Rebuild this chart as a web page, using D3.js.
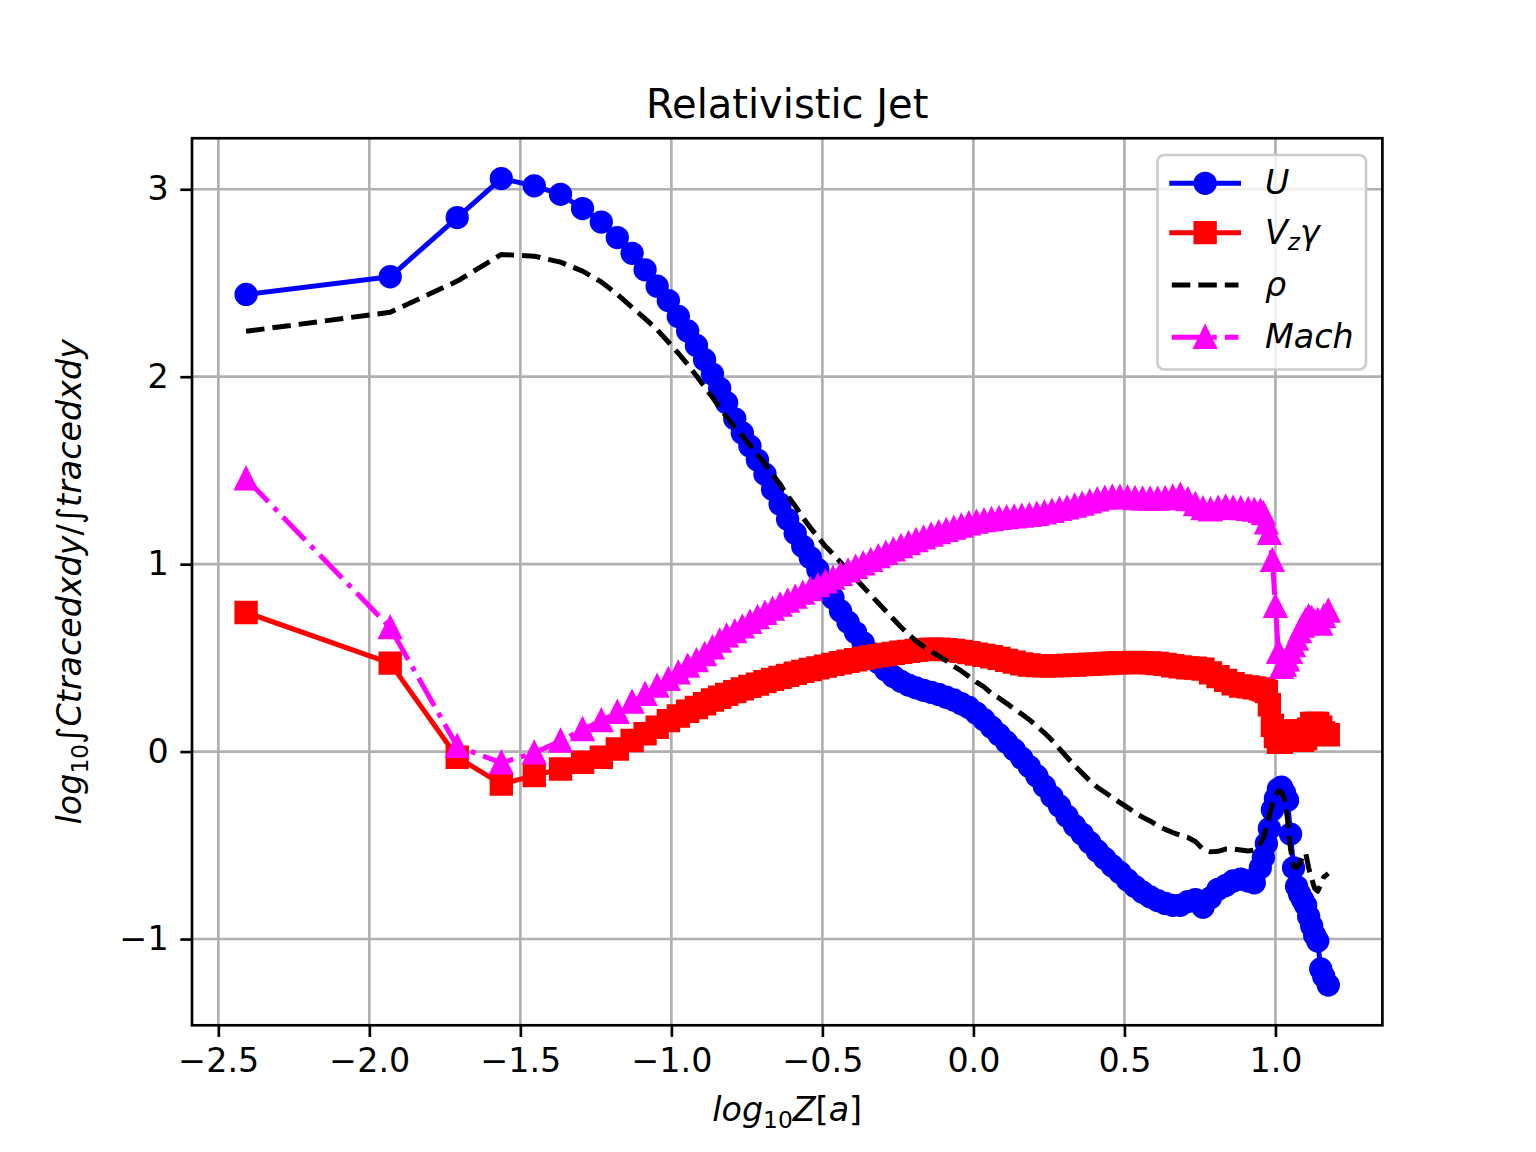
<!DOCTYPE html>
<html>
<head>
<meta charset="utf-8">
<script src="https://cdn.jsdelivr.net/npm/d3@7"></script>
<style>
  body { margin: 0; background: #ffffff; }
  text { font-family: "DejaVu Sans", sans-serif; }
</style>
</head>
<body>
<svg id="chart" width="1536" height="1152"></svg>
<script>
// ---------------- data ----------------
const xValues = [
  -2.408, -1.931, -1.709, -1.563, -1.454, -1.367, -1.294, -1.232, -1.179, -1.130,
  -1.087, -1.047, -1.010, -0.977, -0.946, -0.917, -0.890, -0.864, -0.840, -0.817,
  -0.79, -0.765, -0.74, -0.715, -0.69, -0.665, -0.64, -0.615, -0.59, -0.565,
  -0.54, -0.515, -0.49, -0.465, -0.44, -0.415, -0.39, -0.365, -0.34, -0.315,
  -0.29, -0.265, -0.24, -0.215, -0.19, -0.165, -0.14, -0.115, -0.09, -0.065,
  -0.04, -0.015, 0.01, 0.035, 0.06, 0.085, 0.11, 0.135, 0.16, 0.185,
  0.21, 0.235, 0.26, 0.285, 0.31, 0.335, 0.36, 0.385, 0.41, 0.435,
  0.46, 0.485, 0.51, 0.535, 0.56, 0.585, 0.61, 0.635, 0.66, 0.685,
  0.71, 0.735, 0.76, 0.785, 0.81, 0.835, 0.86, 0.885,
  0.91, 0.93, 0.95, 0.96, 0.97, 0.98, 0.99, 1.00, 1.01, 1.02,
  1.03, 1.04, 1.05, 1.06, 1.07, 1.08, 1.09, 1.10, 1.11, 1.12,
  1.13, 1.14, 1.15, 1.16, 1.175
];

const uValues = [
  2.439, 2.533, 2.849, 3.057, 3.018, 2.973, 2.897, 2.825, 2.742, 2.658,
  2.570, 2.483, 2.406, 2.321, 2.244, 2.167, 2.091, 2.014, 1.938, 1.861,
  1.775, 1.70, 1.63, 1.555, 1.48, 1.40, 1.32, 1.24, 1.165, 1.095,
  1.035, 0.97, 0.90, 0.82, 0.75, 0.69, 0.635, 0.58, 0.525, 0.475,
  0.435, 0.40, 0.375, 0.355, 0.34, 0.327, 0.316, 0.305, 0.29, 0.275,
  0.255, 0.235, 0.205, 0.17, 0.13, 0.09, 0.05, 0.01, -0.035, -0.08,
  -0.13, -0.185, -0.24, -0.29, -0.345, -0.395, -0.44, -0.485, -0.53, -0.57,
  -0.61, -0.645, -0.685, -0.72, -0.75, -0.775, -0.795, -0.81, -0.82, -0.82,
  -0.80, -0.79, -0.83, -0.78, -0.735, -0.715, -0.69, -0.68,
  -0.69, -0.70, -0.62, -0.565, -0.49, -0.41, -0.31, -0.25, -0.20, -0.19,
  -0.22, -0.26, -0.44, -0.62, -0.72, -0.76, -0.79, -0.82, -0.88, -0.93,
  -0.98, -1.01, -1.16, -1.20, -1.245
];

const vzgValues = [
  0.742, 0.472, -0.030, -0.173, -0.128, -0.093, -0.057, -0.030, 0.014, 0.059,
  0.095, 0.130, 0.165, 0.190, 0.215, 0.235, 0.255, 0.275, 0.290, 0.305,
  0.320, 0.335, 0.348, 0.360, 0.373, 0.385, 0.396, 0.407, 0.418, 0.428,
  0.438, 0.447, 0.456, 0.465, 0.474, 0.482, 0.490, 0.498, 0.505, 0.512,
  0.518, 0.524, 0.530, 0.535, 0.540, 0.544, 0.546, 0.546, 0.544, 0.540,
  0.535, 0.528, 0.520, 0.513, 0.506, 0.497, 0.487, 0.477, 0.468, 0.462,
  0.459, 0.458, 0.458, 0.459, 0.460, 0.462, 0.464, 0.466, 0.468, 0.470,
  0.472, 0.474, 0.475, 0.476, 0.475, 0.473, 0.470, 0.465, 0.458, 0.452,
  0.447, 0.445, 0.440, 0.420, 0.400, 0.380, 0.362, 0.350,
  0.345, 0.340, 0.335, 0.330, 0.320, 0.250, 0.140, 0.080, 0.050, 0.050,
  0.060, 0.080, 0.100, 0.110, 0.110, 0.080, 0.060, 0.070, 0.120, 0.150,
  0.150, 0.150, 0.130, 0.100, 0.090
];

const rhoValues = [
  2.242, 2.344, 2.510, 2.652, 2.643, 2.611, 2.563, 2.505, 2.440, 2.370,
  2.310, 2.250, 2.185, 2.125, 2.065, 2.005, 1.945, 1.890, 1.835, 1.785,
  1.730, 1.685, 1.635, 1.585, 1.535, 1.480, 1.425, 1.365, 1.310, 1.250,
  1.195, 1.145, 1.095, 1.055, 1.010, 0.965, 0.922, 0.879, 0.836, 0.793,
  0.750, 0.707, 0.665, 0.625, 0.590, 0.560, 0.535, 0.510, 0.485, 0.455,
  0.430, 0.400, 0.370, 0.345, 0.310, 0.285, 0.257, 0.228, 0.200, 0.170,
  0.135, 0.100, 0.060, 0.015, -0.030, -0.075, -0.115, -0.155, -0.190, -0.217,
  -0.245, -0.272, -0.298, -0.325, -0.350, -0.370, -0.395, -0.415, -0.432, -0.446,
  -0.458, -0.480, -0.520, -0.535, -0.532, -0.520, -0.520, -0.525,
  -0.530, -0.525, -0.490, -0.460, -0.410, -0.340, -0.280, -0.235, -0.210, -0.215,
  -0.250, -0.360, -0.520, -0.610, -0.620, -0.600, -0.560, -0.540, -0.620, -0.680,
  -0.730, -0.745, -0.710, -0.670, -0.650
];

const machValues = [
  1.455, 0.661, 0.028, -0.060, -0.007, 0.056, 0.118, 0.165, 0.210, 0.264,
  0.306, 0.349, 0.385, 0.420, 0.456, 0.485, 0.518, 0.554, 0.590, 0.617,
  0.640, 0.665, 0.690, 0.715, 0.738, 0.760, 0.782, 0.803, 0.824, 0.845,
  0.865, 0.885, 0.905, 0.925, 0.945, 0.964, 0.983, 1.002, 1.020, 1.040,
  1.058, 1.076, 1.094, 1.110, 1.126, 1.140, 1.155, 1.168, 1.180, 1.192,
  1.203, 1.215, 1.224, 1.232, 1.238, 1.244, 1.248, 1.252, 1.256, 1.260,
  1.266, 1.274, 1.282, 1.292, 1.300, 1.310, 1.320, 1.332, 1.343, 1.352,
  1.358, 1.357, 1.354, 1.350, 1.348, 1.347, 1.347, 1.350, 1.358, 1.368,
  1.345, 1.318, 1.296, 1.290, 1.298, 1.305, 1.300, 1.296,
  1.292, 1.288, 1.282, 1.270, 1.220, 1.165, 1.020, 0.775, 0.530, 0.450,
  0.460, 0.490, 0.530, 0.565, 0.600, 0.640, 0.670, 0.700, 0.720, 0.710,
  0.690, 0.700, 0.680, 0.720, 0.750
];

const xTicks = [-2.5, -2.0, -1.5, -1.0, -0.5, 0.0, 0.5, 1.0];
const yTicks = [-1, 0, 1, 2, 3];

// ---------------- layout ----------------
const L = 192, R = 1382.4, T = 138.24, B = 1025.28;
const FS = 33.33;
const svg = d3.select('#chart');

const [xa, xb] = d3.extent(xValues);
const xpad = (xb - xa) * 0.05;
const allY = uValues.concat(vzgValues, rhoValues, machValues);
const [ya, yb] = d3.extent(allY);
const ypad = (yb - ya) * 0.05;

const x = d3.scaleLinear().domain([xa - xpad, xb + xpad]).range([L, R]);
const y = d3.scaleLinear().domain([ya - ypad, yb + ypad]).range([B, T]);

svg.append('rect').attr('width', 1536).attr('height', 1152).attr('fill', '#ffffff');

// grid
const grid = svg.append('g');
grid.selectAll('line.gx').data(xTicks).join('line').attr('class', 'gx')
  .attr('x1', d => x(d)).attr('x2', d => x(d)).attr('y1', T).attr('y2', B)
  .attr('stroke', '#b0b0b0').attr('stroke-width', 2.67);
grid.selectAll('line.gy').data(yTicks).join('line').attr('class', 'gy')
  .attr('y1', d => y(d)).attr('y2', d => y(d)).attr('x1', L).attr('x2', R)
  .attr('stroke', '#b0b0b0').attr('stroke-width', 2.67);

// marker shapes
const markerPaths = {
  circle: 'M10,0A10,10 0 1,1 -10,0A10,10 0 1,1 10,0Z',
  square: 'M-10,-10H10V10H-10Z',
  triangle: 'M0,-10L-10,10L10,10Z'
};

const series = [
  { values: uValues, color: '#0000ff', dash: null, marker: 'circle' },
  { values: vzgValues, color: '#ff0000', dash: null, marker: 'square' },
  { values: rhoValues, color: '#000000', dash: '18.5,8', marker: null },
  { values: machValues, color: '#ff00ff', dash: '32,8,5,8', marker: 'triangle' }
];

const line = d3.line().x(d => x(d[0])).y(d => y(d[1]));
const plot = svg.append('g');
series.forEach(s => {
  const pts = xValues.map((xv, i) => [xv, s.values[i]]);
  const g = plot.append('g');
  g.append('path').attr('d', line(pts)).attr('fill', 'none')
    .attr('stroke', s.color).attr('stroke-width', 5)
    .attr('stroke-linejoin', 'round')
    .attr('stroke-linecap', s.dash ? 'butt' : 'square')
    .attr('stroke-dasharray', s.dash);
  if (s.marker) {
    g.selectAll('path.m').data(pts).join('path').attr('class', 'm')
      .attr('d', markerPaths[s.marker])
      .attr('transform', d => `translate(${x(d[0])},${y(d[1])})`)
      .attr('fill', s.color).attr('stroke', s.color).attr('stroke-width', 3.33)
      .attr('stroke-linejoin', 'miter');
  }
});

// frame
svg.append('rect').attr('x', L).attr('y', T).attr('width', R - L).attr('height', B - T)
  .attr('fill', 'none').attr('stroke', '#000').attr('stroke-width', 2.67);

// axes
const styleAxis = g => {
  g.select('.domain').remove();
  g.selectAll('.tick line').attr('stroke', '#000').attr('stroke-width', 2.67);
  g.selectAll('.tick text').attr('font-size', FS).attr('font-family', 'DejaVu Sans').attr('fill', '#000');
};
svg.append('g').attr('transform', `translate(0,${B})`)
  .call(d3.axisBottom(x).tickValues(xTicks).tickFormat(d3.format('.1f')).tickSize(11.67).tickPadding(11.67))
  .call(styleAxis);
svg.append('g').attr('transform', `translate(${L},0)`)
  .call(d3.axisLeft(y).tickValues(yTicks).tickFormat(d3.format('d')).tickSize(11.67).tickPadding(11.67))
  .call(styleAxis);

// title
svg.append('text').attr('x', (L + R) / 2).attr('y', 118).attr('text-anchor', 'middle')
  .attr('font-size', 40).attr('fill', '#000').text('Relativistic Jet');

// x label
const xl = svg.append('text').attr('x', (L + R) / 2).attr('y', 1121).attr('text-anchor', 'middle')
  .attr('font-size', FS).attr('fill', '#000');
xl.append('tspan').attr('font-style', 'italic').text('log');
xl.append('tspan').attr('font-size', 23.3).attr('dy', 7).text('10');
xl.append('tspan').attr('font-style', 'italic').attr('dy', -7).text('Z');
xl.append('tspan').text('[');
xl.append('tspan').attr('font-style', 'italic').text('a');
xl.append('tspan').text(']');

// y label
const yl = svg.append('text').attr('transform', `translate(81,${(T + B) / 2}) rotate(-90)`)
  .attr('text-anchor', 'middle').attr('font-size', FS).attr('fill', '#000');
yl.append('tspan').attr('font-style', 'italic').text('log');
yl.append('tspan').attr('font-size', 23.3).attr('dy', 7).text('10');
yl.append('tspan').attr('dy', -7).text('\u222B');
yl.append('tspan').attr('font-style', 'italic').text('Ctracedxdy');
yl.append('tspan').text('/');
yl.append('tspan').text('\u222B');
yl.append('tspan').attr('font-style', 'italic').text('tracedxdy');

// legend
const lg = svg.append('g');
lg.append('rect').attr('x', 1157.5).attr('y', 155).attr('width', 208.5).attr('height', 214.5)
  .attr('rx', 6.7).attr('fill', '#ffffff').attr('fill-opacity', 0.8)
  .attr('stroke', '#cccccc').attr('stroke-width', 2.67);
const rowsY = [183.3, 232.7, 285, 337.3];
const hx0 = 1171.8, hx1 = 1238.5, hxm = (hx0 + hx1) / 2;
series.forEach((s, i) => {
  const cy = rowsY[i];
  lg.append('line').attr('x1', hx0).attr('x2', hx1).attr('y1', cy).attr('y2', cy)
    .attr('stroke', s.color).attr('stroke-width', 5)
    .attr('stroke-linecap', s.dash ? 'butt' : 'square')
    .attr('stroke-dasharray', s.dash);
  if (s.marker) {
    lg.append('path').attr('d', markerPaths[s.marker]).attr('transform', `translate(${hxm},${cy})`)
      .attr('fill', s.color).attr('stroke', s.color).attr('stroke-width', 3.33);
  }
});
const lt = (i) => lg.append('text').attr('x', 1265).attr('y', rowsY[i] + 11)
  .attr('font-size', FS).attr('font-style', 'italic').attr('fill', '#000');
lt(0).text('U');
const t1 = lt(1);
t1.append('tspan').text('V');
t1.append('tspan').attr('font-size', 23.3).attr('dy', 6).text('z');
t1.append('tspan').attr('dy', -6).text('\u03B3');
lt(2).text('\u03C1');
lt(3).text('Mach');
</script>
</body>
</html>
